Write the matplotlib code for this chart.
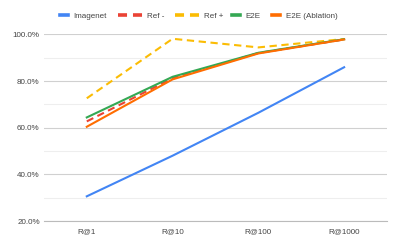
import matplotlib
matplotlib.use("Agg")
import matplotlib.pyplot as plt
from matplotlib.lines import Line2D
from matplotlib.ticker import FuncFormatter, MultipleLocator

categories = ["R@1", "R@10", "R@100", "R@1000"]
imagenet = [30.6, 48.0, 66.4, 85.9]
ref_minus = [62.7, 81.2, 92.0, 97.8]
ref_plus = [72.6, 98.1, 94.4, 98.0]
e2e = [64.4, 81.8, 92.1, 97.9]
e2e_ablation = [60.4, 80.7, 91.8, 97.8]

plt.rcParams['font.family'] = ['Liberation Sans', 'DejaVu Sans']

fig = plt.figure(figsize=(3.99, 2.47), dpi=100)
ax = fig.add_axes([0.110, 0.105, 0.860, 0.756])

x = list(range(len(categories)))
lw = 1.5
dash = (3.5, 2.2)
series = [
    (imagenet, '#4285F4', None, 'Imagenet'),
    (ref_minus, '#EA4335', dash, 'Ref -'),
    (ref_plus, '#FBBC04', dash, 'Ref +'),
    (e2e, '#34A853', None, 'E2E'),
    (e2e_ablation, '#FF6D01', None, 'E2E (Ablation)'),
]
for vals, color, dashes, label in series:
    if dashes:
        ax.plot(x, vals, color=color, lw=lw, dashes=dashes)
    else:
        ax.plot(x, vals, color=color, lw=lw)

ax.set_xlim(-0.5, 3.5)
ax.set_ylim(20, 100)
ax.set_xticks(x)
ax.set_xticklabels(categories)
ax.yaxis.set_major_locator(MultipleLocator(20))
ax.yaxis.set_minor_locator(MultipleLocator(10))
ax.yaxis.set_major_formatter(FuncFormatter(lambda v, p: f"{v:.1f}%"))
ax.grid(axis='y', which='major', color='#d0d0d0', lw=0.8)
ax.grid(axis='y', which='minor', color='#eeeeee', lw=0.8)
ax.set_axisbelow(True)
for s in ['top', 'right', 'left']:
    ax.spines[s].set_visible(False)
ax.spines['bottom'].set_color('#bbbbbb')
ax.spines['bottom'].set_linewidth(0.8)
ax.tick_params(axis='both', which='both', length=0, labelsize=5.8, colors='#444444')
ax.tick_params(axis='y', pad=3)
ax.tick_params(axis='x', pad=5)

# legend entries laid out one by one (short solid handles, long dashed ones)
legend_x = [60, 118, 175, 232, 272]
for (vals, color, dashes, label), lx in zip(series, legend_x):
    if dashes:
        h = Line2D([], [], color=color, lw=2.6, dashes=(2.5, 1.65))
        hl, pad = 3.1, 0.5
    else:
        h = Line2D([], [], color=color, lw=2.6)
        hl, pad = 1.0, 0.7
    fig.legend(handles=[h], labels=[label], loc='center left',
               bbox_to_anchor=(lx / 399, 0.935), frameon=False, fontsize=5.8,
               handlelength=hl, handletextpad=pad, borderpad=0, borderaxespad=0,
               labelcolor='#444444')

fig.savefig("out.png", dpi=100)
